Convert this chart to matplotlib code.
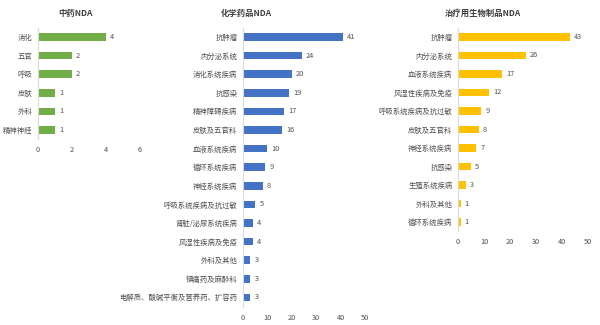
import matplotlib
matplotlib.use("Agg")
import matplotlib.pyplot as plt

plt.rcParams['font.family'] = ['Noto Sans CJK SC', 'DejaVu Sans']

# 中药NDA
tcm_cats = ['消化', '五官', '呼吸', '皮肤', '外科', '精神神经']
tcm_vals = [4, 2, 2, 1, 1, 1]

# 化学药品NDA
chem_cats = ['抗肿瘤', '内分泌系统', '消化系统疾病', '抗感染', '精神障碍疾病', '皮肤及五官科',
             '血液系统疾病', '循环系统疾病', '神经系统疾病', '呼吸系统疾病及抗过敏',
             '肾脏/泌尿系统疾病', '风湿性疾病及免疫', '外科及其他', '镇痛药及麻醉科',
             '电解质、酸碱平衡及营养药、扩容药']
chem_vals = [41, 24, 20, 19, 17, 16, 10, 9, 8, 5, 4, 4, 3, 3, 3]

# 治疗用生物制品NDA
bio_cats = ['抗肿瘤', '内分泌系统', '血液系统疾病', '风湿性疾病及免疫', '呼吸系统疾病及抗过敏',
            '皮肤及五官科', '神经系统疾病', '抗感染', '生殖系统疾病', '外科及其他', '循环系统疾病']
bio_vals = [43, 26, 17, 12, 9, 8, 7, 5, 3, 1, 1]

W, H = 600, 325
fig = plt.figure(figsize=(6, 3.25), dpi=100)

label_col = '#505050'


def panel(px_left, px_right, px_top, px_bottom, cats, vals, color, xmax, xticks, title, tx):
    ax = fig.add_axes([px_left / W, 1 - px_bottom / H, (px_right - px_left) / W, (px_bottom - px_top) / H])
    y = range(len(cats))
    ax.barh(y, vals, height=0.4, color=color)
    ax.set_ylim(len(cats) - 0.5, -0.5)
    ax.set_xlim(0, xmax)
    ax.set_yticks(list(y))
    ax.set_yticklabels(cats)
    ax.set_xticks(xticks)
    ax.tick_params(length=0, labelsize=5.3, colors=label_col, pad=4)
    ax.tick_params(axis='x', pad=5)
    for s in ['top', 'right', 'bottom']:
        ax.spines[s].set_visible(False)
    ax.spines['left'].set_color('#D9D9D9')
    ax.spines['left'].set_linewidth(0.8)
    for i, v in enumerate(vals):
        ax.annotate(str(v), (v, i), xytext=(3, 0), textcoords='offset points',
                    va='center', ha='left', fontsize=5.3, color=label_col)
    fig.text(tx / W, 1 - 13 / H, title, ha='center', va='center', fontsize=6,
             fontweight='bold', color='#404040')
    return ax


panel(37.7, 140, 27.7, 139.3, tcm_cats, tcm_vals, '#70AD47', 6, [0, 2, 4, 6], '中药NDA', 75)
panel(243, 365, 27.7, 306.7, chem_cats, chem_vals, '#4472C4', 50, [0, 10, 20, 30, 40, 50], '化学药品NDA', 246)
panel(458, 588, 27.7, 231.3, bio_cats, bio_vals, '#FFC000', 50, [0, 10, 20, 30, 40, 50], '治疗用生物制品NDA', 483)

fig.savefig('out.png', dpi=100)
